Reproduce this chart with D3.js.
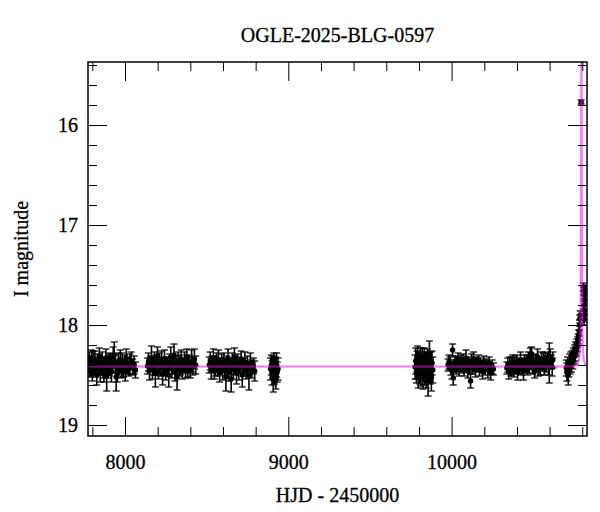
<!DOCTYPE html>
<html><head><meta charset="utf-8">
<script src="https://cdn.jsdelivr.net/npm/d3@7"></script>
<style>
html,body{margin:0;padding:0;background:#fff;}
text{font-family:"Liberation Serif","Times New Roman",serif;fill:#000;stroke:#000;stroke-width:0.3px;}
</style></head>
<body>
<svg id="chart" width="600" height="512"></svg>
<script>
const title = "OGLE-2025-BLG-0597";
const xLabel = "HJD - 2450000";
const yLabel = "I magnitude";
const xMajorTicks = [8000, 9000, 10000];
const yMajorTicks = [16, 17, 18, 19];

// [HJD-2450000, I mag, error]
const season1 = [[7776,18.40,0.08],[7781,18.36,0.09],[7785,18.45,0.07],[7790,18.41,0.10],[7795,18.33,0.08],[7800,18.47,0.09],[7805,18.38,0.12],[7810,18.42,0.07],[7816,18.35,0.09],[7821,18.44,0.08],[7827,18.50,0.10],[7832,18.37,0.08],[7838,18.41,0.09],[7843,18.31,0.08],[7849,18.46,0.11],[7855,18.40,0.08],[7860,18.36,0.09],[7866,18.43,0.10],[7871,18.49,0.08],[7877,18.39,0.07],[7883,18.33,0.09],[7888,18.50,0.16],[7894,18.45,0.08],[7900,18.38,0.09],[7905,18.41,0.10],[7911,18.36,0.08],[7917,18.47,0.10],[7922,18.40,0.07],[7928,18.32,0.10],[7934,18.30,0.13],[7940,18.39,0.09],[7946,18.52,0.14],[7953,18.49,0.08],[7959,18.37,0.09],[7965,18.41,0.07],[7971,18.35,0.10],[7977,18.45,0.08],[7983,18.40,0.12],[7990,18.43,0.09],[7996,18.38,0.08],[8002,18.46,0.10],[8008,18.33,0.09],[8015,18.41,0.08],[8022,18.44,0.07],[8030,18.39,0.10],[8038,18.36,0.09],[8047,18.42,0.08],[8056,18.40,0.09],[8064,18.45,0.08]];
const season2 = [[8138,18.41,0.08],[8144,18.37,0.09],[8150,18.45,0.10],[8156,18.39,0.08],[8162,18.33,0.12],[8168,18.44,0.10],[8174,18.42,0.08],[8180,18.36,0.09],[8186,18.48,0.14],[8192,18.40,0.10],[8199,18.31,0.09],[8205,18.46,0.08],[8211,18.38,0.10],[8217,18.43,0.08],[8224,18.35,0.09],[8230,18.49,0.11],[8236,18.40,0.08],[8242,18.34,0.09],[8249,18.45,0.10],[8255,18.39,0.07],[8261,18.42,0.09],[8268,18.50,0.12],[8274,18.37,0.08],[8280,18.32,0.10],[8287,18.44,0.09],[8293,18.41,0.08],[8300,18.30,0.11],[8306,18.47,0.09],[8312,18.39,0.08],[8319,18.52,0.13],[8325,18.36,0.09],[8331,18.43,0.08],[8338,18.40,0.10],[8344,18.34,0.09],[8351,18.46,0.08],[8357,18.41,0.07],[8364,18.37,0.10],[8371,18.44,0.09],[8378,18.32,0.08],[8385,18.42,0.10],[8392,18.39,0.09],[8400,18.45,0.08],[8408,18.36,0.11],[8416,18.41,0.09],[8425,18.34,0.10],[8433,18.40,0.09]];
const season3 = [[8516,18.40,0.08],[8522,18.36,0.09],[8528,18.44,0.10],[8534,18.39,0.08],[8541,18.33,0.09],[8547,18.46,0.08],[8553,18.41,0.10],[8560,18.37,0.09],[8566,18.43,0.08],[8572,18.35,0.10],[8579,18.48,0.09],[8585,18.40,0.07],[8592,18.38,0.09],[8598,18.45,0.10],[8605,18.36,0.08],[8611,18.42,0.09],[8618,18.52,0.14],[8624,18.39,0.08],[8631,18.34,0.10],[8637,18.47,0.09],[8644,18.41,0.08],[8650,18.54,0.13],[8657,18.37,0.09],[8663,18.44,0.10],[8670,18.32,0.09],[8676,18.42,0.08],[8683,18.48,0.11],[8690,18.38,0.09],[8697,18.45,0.10],[8704,18.40,0.08],[8711,18.35,0.09],[8718,18.50,0.12],[8726,18.42,0.09],[8734,18.37,0.10],[8742,18.46,0.08],[8750,18.40,0.09],[8759,18.51,0.14],[8768,18.38,0.10],[8777,18.44,0.09],[8786,18.41,0.08],[8794,18.46,0.10]];
const season4 = [[8891,18.44,0.11],[8896,18.40,0.10],[8900,18.48,0.12],[8904,18.42,0.11],[8908,18.50,0.17],[8912,18.38,0.10],[8916,18.46,0.13],[8920,18.43,0.11],[8924,18.52,0.12],[8928,18.40,0.12],[8932,18.47,0.10],[8937,18.44,0.11]];
const season5 = [[9776,18.42,0.12],[9780,18.36,0.13],[9784,18.47,0.11],[9788,18.40,0.14],[9792,18.33,0.12],[9796,18.50,0.13],[9800,18.38,0.11],[9804,18.44,0.15],[9808,18.35,0.12],[9812,18.48,0.13],[9816,18.41,0.12],[9820,18.37,0.14],[9824,18.52,0.12],[9828,18.43,0.13],[9832,18.34,0.11],[9836,18.46,0.14],[9840,18.39,0.12],[9844,18.50,0.13],[9848,18.42,0.15],[9852,18.36,0.12],[9856,18.55,0.16],[9860,18.44,0.13],[9864,18.30,0.14],[9868,18.47,0.12],[9872,18.40,0.13],[9876,18.52,0.14],[9880,18.38,0.12],[9885,18.45,0.13]];
const season6 = [[9978,18.40,0.06],[9984,18.37,0.07],[9990,18.38,0.06],[9996,18.44,0.06],[10002,18.46,0.08],[10006,18.25,0.06],[10010,18.53,0.07],[10016,18.41,0.06],[10022,18.36,0.05],[10028,18.43,0.06],[10034,18.39,0.07],[10040,18.34,0.06],[10046,18.45,0.06],[10052,18.40,0.05],[10058,18.37,0.07],[10064,18.42,0.06],[10070,18.35,0.06],[10076,18.44,0.07],[10082,18.39,0.05],[10088,18.33,0.08],[10094,18.41,0.06],[10100,18.46,0.07],[10106,18.38,0.06],[10112,18.42,0.06],[10116,18.56,0.07],[10122,18.36,0.07],[10128,18.43,0.06],[10134,18.34,0.07],[10140,18.40,0.06],[10146,18.45,0.07],[10152,18.38,0.06],[10158,18.42,0.05],[10164,18.36,0.06],[10170,18.44,0.07],[10176,18.39,0.06],[10182,18.41,0.06],[10190,18.47,0.07],[10198,18.37,0.06],[10206,18.43,0.07],[10214,18.40,0.06],[10222,18.45,0.08],[10230,18.38,0.06],[10239,18.48,0.07],[10248,18.42,0.07],[10256,18.44,0.06]];
const season7 = [[10338,18.43,0.06],[10344,18.40,0.07],[10350,18.46,0.08],[10356,18.38,0.06],[10362,18.44,0.07],[10368,18.41,0.09],[10374,18.36,0.06],[10380,18.45,0.07],[10386,18.40,0.08],[10392,18.43,0.06],[10398,18.37,0.07],[10404,18.47,0.08],[10410,18.39,0.06],[10416,18.42,0.07],[10422,18.35,0.08],[10428,18.44,0.06],[10434,18.40,0.07],[10440,18.46,0.09],[10446,18.36,0.06],[10452,18.41,0.07],[10458,18.38,0.08],[10464,18.44,0.06],[10470,18.34,0.07],[10476,18.40,0.08],[10482,18.33,0.10],[10490,18.29,0.07],[10496,18.43,0.06],[10502,18.37,0.07],[10508,18.45,0.08],[10514,18.35,0.06],[10520,18.41,0.07],[10526,18.32,0.08],[10532,18.44,0.07],[10538,18.38,0.06],[10544,18.42,0.08],[10550,18.34,0.07],[10556,18.40,0.06],[10562,18.36,0.08],[10568,18.43,0.07],[10574,18.33,0.06],[10580,18.39,0.08],[10586,18.35,0.07],[10592,18.41,0.09],[10598,18.38,0.20],[10604,18.32,0.08],[10610,18.37,0.07],[10616,18.42,0.09],[10620,18.35,0.08]];
const season8 = [[10702,18.43,0.08],[10706,18.47,0.09],[10710,18.40,0.08],[10714,18.50,0.10],[10718,18.44,0.08],[10722,18.38,0.09],[10726,18.42,0.07],[10730,18.35,0.08],[10734,18.39,0.08],[10738,18.33,0.07],[10742,18.36,0.08],[10746,18.30,0.07],[10750,18.32,0.07],[10754,18.26,0.06],[10757,18.29,0.07],[10760,18.23,0.06],[10763,18.25,0.06],[10766,18.20,0.06],[10769,18.22,0.05],[10772,18.17,0.05],[10775,18.14,0.05],[10778,18.10,0.05],[10781,18.06,0.05],[10783,18.00,0.05],[10785,17.94,0.04],[10787,17.90,0.04],[10793,15.77,0.02],[10806,17.62,0.04],[10808,17.66,0.04],[10810,17.70,0.04],[10809,17.80,0.04],[10812,17.85,0.04],[10814,17.90,0.04],[10811,17.95,0.05],[10816,17.75,0.04],[10818,17.64,0.04]];

// microlensing model curve
const modelHJD = [7700,10740,10770,10780,10786,10789,10791,10792.5,10793.5,10795,10796.5,10797.5,10799,10801,10804,10810,10820,10900];
const modelMag = [18.415,18.415,18.40,18.35,18.25,18.05,17.6,16.6,15.77,14.9,15.77,16.6,17.6,18.05,18.25,18.35,18.40,18.415];

const svg = d3.select("#chart");
const L = 88, R = 587, T = 62, B = 436;
const x = d3.scaleLinear().domain([7773.4, 10829]).range([L, R]);
const y = d3.scaleLinear().domain([15.37, 19.11]).range([T, B]);

const obs = [].concat(season1, season2, season3, season4, season5, season6, season7, season8)
  .map(d => ({t: d[0], m: d[1], e: d[2]}));

svg.append("defs").append("clipPath").attr("id", "clip")
  .append("rect").attr("x", L).attr("y", T).attr("width", R - L).attr("height", B - T);

const plot = svg.append("g").attr("clip-path", "url(#clip)");

const eb = plot.append("g").attr("stroke", "#000").attr("fill", "none");
obs.forEach(d => {
  const cx = x(d.t), y1 = y(d.m - d.e), y2 = y(d.m + d.e);
  eb.append("line").attr("x1", cx).attr("x2", cx).attr("y1", y1).attr("y2", y2).attr("stroke-width", 1.6);
  eb.append("line").attr("x1", cx - 3.5).attr("x2", cx + 3.5).attr("y1", y1).attr("y2", y1).attr("stroke-width", 1.2);
  eb.append("line").attr("x1", cx - 3.5).attr("x2", cx + 3.5).attr("y1", y2).attr("y2", y2).attr("stroke-width", 1.2);
});
plot.append("g").selectAll("circle").data(obs).join("circle")
  .attr("cx", d => x(d.t)).attr("cy", d => y(d.m)).attr("r", 2.7).attr("fill", "#000");

const model = modelHJD.map((t, i) => [t, modelMag[i]]);
plot.append("path").datum(model)
  .attr("d", d3.line().x(d => x(d[0])).y(d => y(d[1])))
  .attr("fill", "none").attr("stroke", "#ff00ff").attr("stroke-opacity", 0.55).attr("stroke-width", 2);

// axes with inward ticks on all sides
const xMinor = d3.range(7800, 10801, 200).filter(v => v % 1000 !== 0);
const yMinor = d3.range(15.4, 19.11, 0.2).filter(v => Math.abs(v - Math.round(v)) > 0.01);
function styleAxis(g){ g.select(".domain").remove(); g.selectAll("line").attr("stroke", "#000"); g.selectAll("text").attr("font-size", 20).attr("font-family", "'Liberation Serif', serif"); }

svg.append("g").attr("transform", `translate(0,${B})`)
  .call(d3.axisBottom(x).tickValues(xMajorTicks).tickSize(-19).tickPadding(19).tickFormat(d3.format("d"))).call(styleAxis);
svg.append("g").attr("transform", `translate(0,${B})`)
  .call(d3.axisBottom(x).tickValues(xMinor).tickSize(-9).tickFormat("")).call(styleAxis);
svg.append("g").attr("transform", `translate(0,${T})`)
  .call(d3.axisTop(x).tickValues(xMajorTicks).tickSize(-19).tickFormat("")).call(styleAxis);
svg.append("g").attr("transform", `translate(0,${T})`)
  .call(d3.axisTop(x).tickValues(xMinor).tickSize(-9).tickFormat("")).call(styleAxis);
svg.append("g").attr("transform", `translate(${L},0)`)
  .call(d3.axisLeft(y).tickValues(yMajorTicks).tickSize(-19).tickPadding(10).tickFormat(d3.format("d"))).call(styleAxis);
svg.append("g").attr("transform", `translate(${L},0)`)
  .call(d3.axisLeft(y).tickValues(yMinor).tickSize(-9).tickFormat("")).call(styleAxis);
svg.append("g").attr("transform", `translate(${R},0)`)
  .call(d3.axisRight(y).tickValues(yMajorTicks).tickSize(-19).tickFormat("")).call(styleAxis);
svg.append("g").attr("transform", `translate(${R},0)`)
  .call(d3.axisRight(y).tickValues(yMinor).tickSize(-9).tickFormat("")).call(styleAxis);

svg.append("rect").attr("x", L).attr("y", T).attr("width", R - L).attr("height", B - T)
  .attr("fill", "none").attr("stroke", "#000").attr("stroke-width", 1.5);

svg.append("text").attr("x", (L + R) / 2).attr("y", 42).attr("text-anchor", "middle").attr("font-size", 20).text(title);
svg.append("text").attr("x", (L + R) / 2).attr("y", 502).attr("text-anchor", "middle").attr("font-size", 20).text(xLabel);
svg.append("text").attr("transform", `translate(28,${(T + B) / 2}) rotate(-90)`).attr("text-anchor", "middle").attr("font-size", 20).text(yLabel);
</script>
</body></html>
